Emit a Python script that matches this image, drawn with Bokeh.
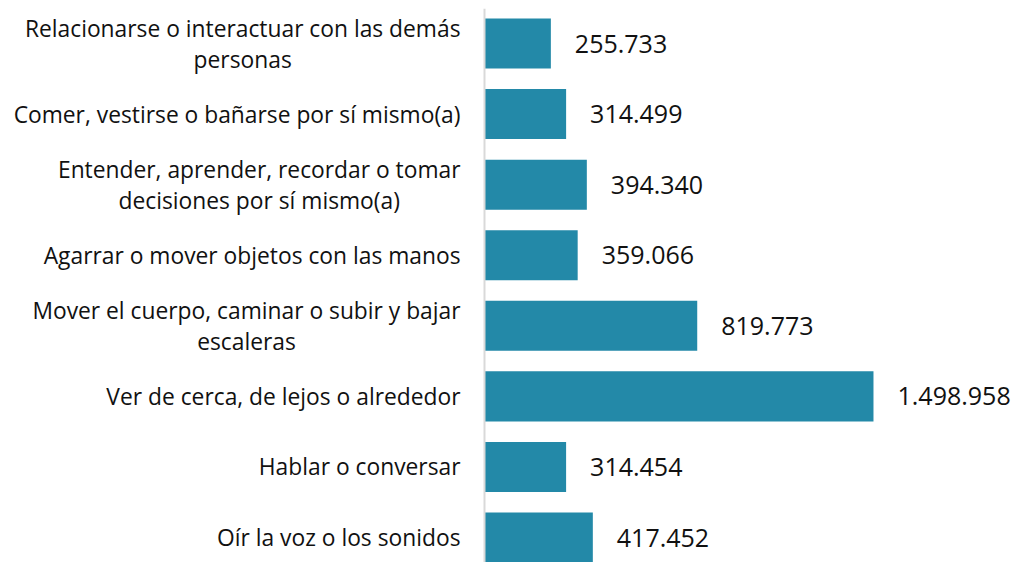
from bokeh.plotting import figure
from bokeh.models import Range1d, ColumnDataSource, Span
from bokeh.core.properties import value
from bokeh.embed import file_html
from bokeh.resources import INLINE

categories = [
    "Relacionarse o interactuar con las demás\npersonas",
    "Comer, vestirse o bañarse por sí mismo(a)",
    "Entender, aprender, recordar o tomar\ndecisiones por sí mismo(a)",
    "Agarrar o mover objetos con las manos",
    "Mover el cuerpo, caminar o subir y bajar\nescaleras",
    "Ver de cerca, de lejos o alrededor",
    "Hablar o conversar",
    "Oír la voz o los sonidos",
]
values = [255733, 314499, 394340, 359066, 819773, 1498958, 314454, 417452]

FONT = "Open Sans"
idx = list(range(len(categories)))
labels = [f"{v:,}".replace(",", ".") for v in values]
zeros = [0] * len(values)
src = ColumnDataSource(dict(y=idx, v=values, lab=labels, cat=categories, z=zeros))

p = figure(width=1015, height=562, output_backend="svg", toolbar_location=None,
           x_range=Range1d(-1865125, 2046243), y_range=Range1d(7.354, -0.496),
           x_axis_location=None, y_axis_location=None,
           min_border_left=0, min_border_right=0,
           min_border_top=8, min_border_bottom=0)
p.outline_line_color = None
p.xgrid.visible = False
p.ygrid.visible = False

p.hbar(y="y", right="v", left=0, height=0.709, source=src,
       fill_color="#2389A8", line_color=None)
p.text(x="v", y="y", text="lab", source=src, x_offset=24,
       text_baseline="middle", text_align="left",
       text_font=value(FONT), text_font_size="25px", text_color="#111111")
p.text(x="z", y="y", text="cat", source=src, x_offset=-24,
       anchor="center_right", text_align="center", text_baseline="middle",
       text_line_height=1.0,
       text_font=value(FONT), text_font_size="22.8px", text_color="#111111")

p.add_layout(Span(location=0, dimension="height", line_color="#d9d9d9",
                  line_width=2))

open("out.html", "w").write(file_html(p, INLINE))
